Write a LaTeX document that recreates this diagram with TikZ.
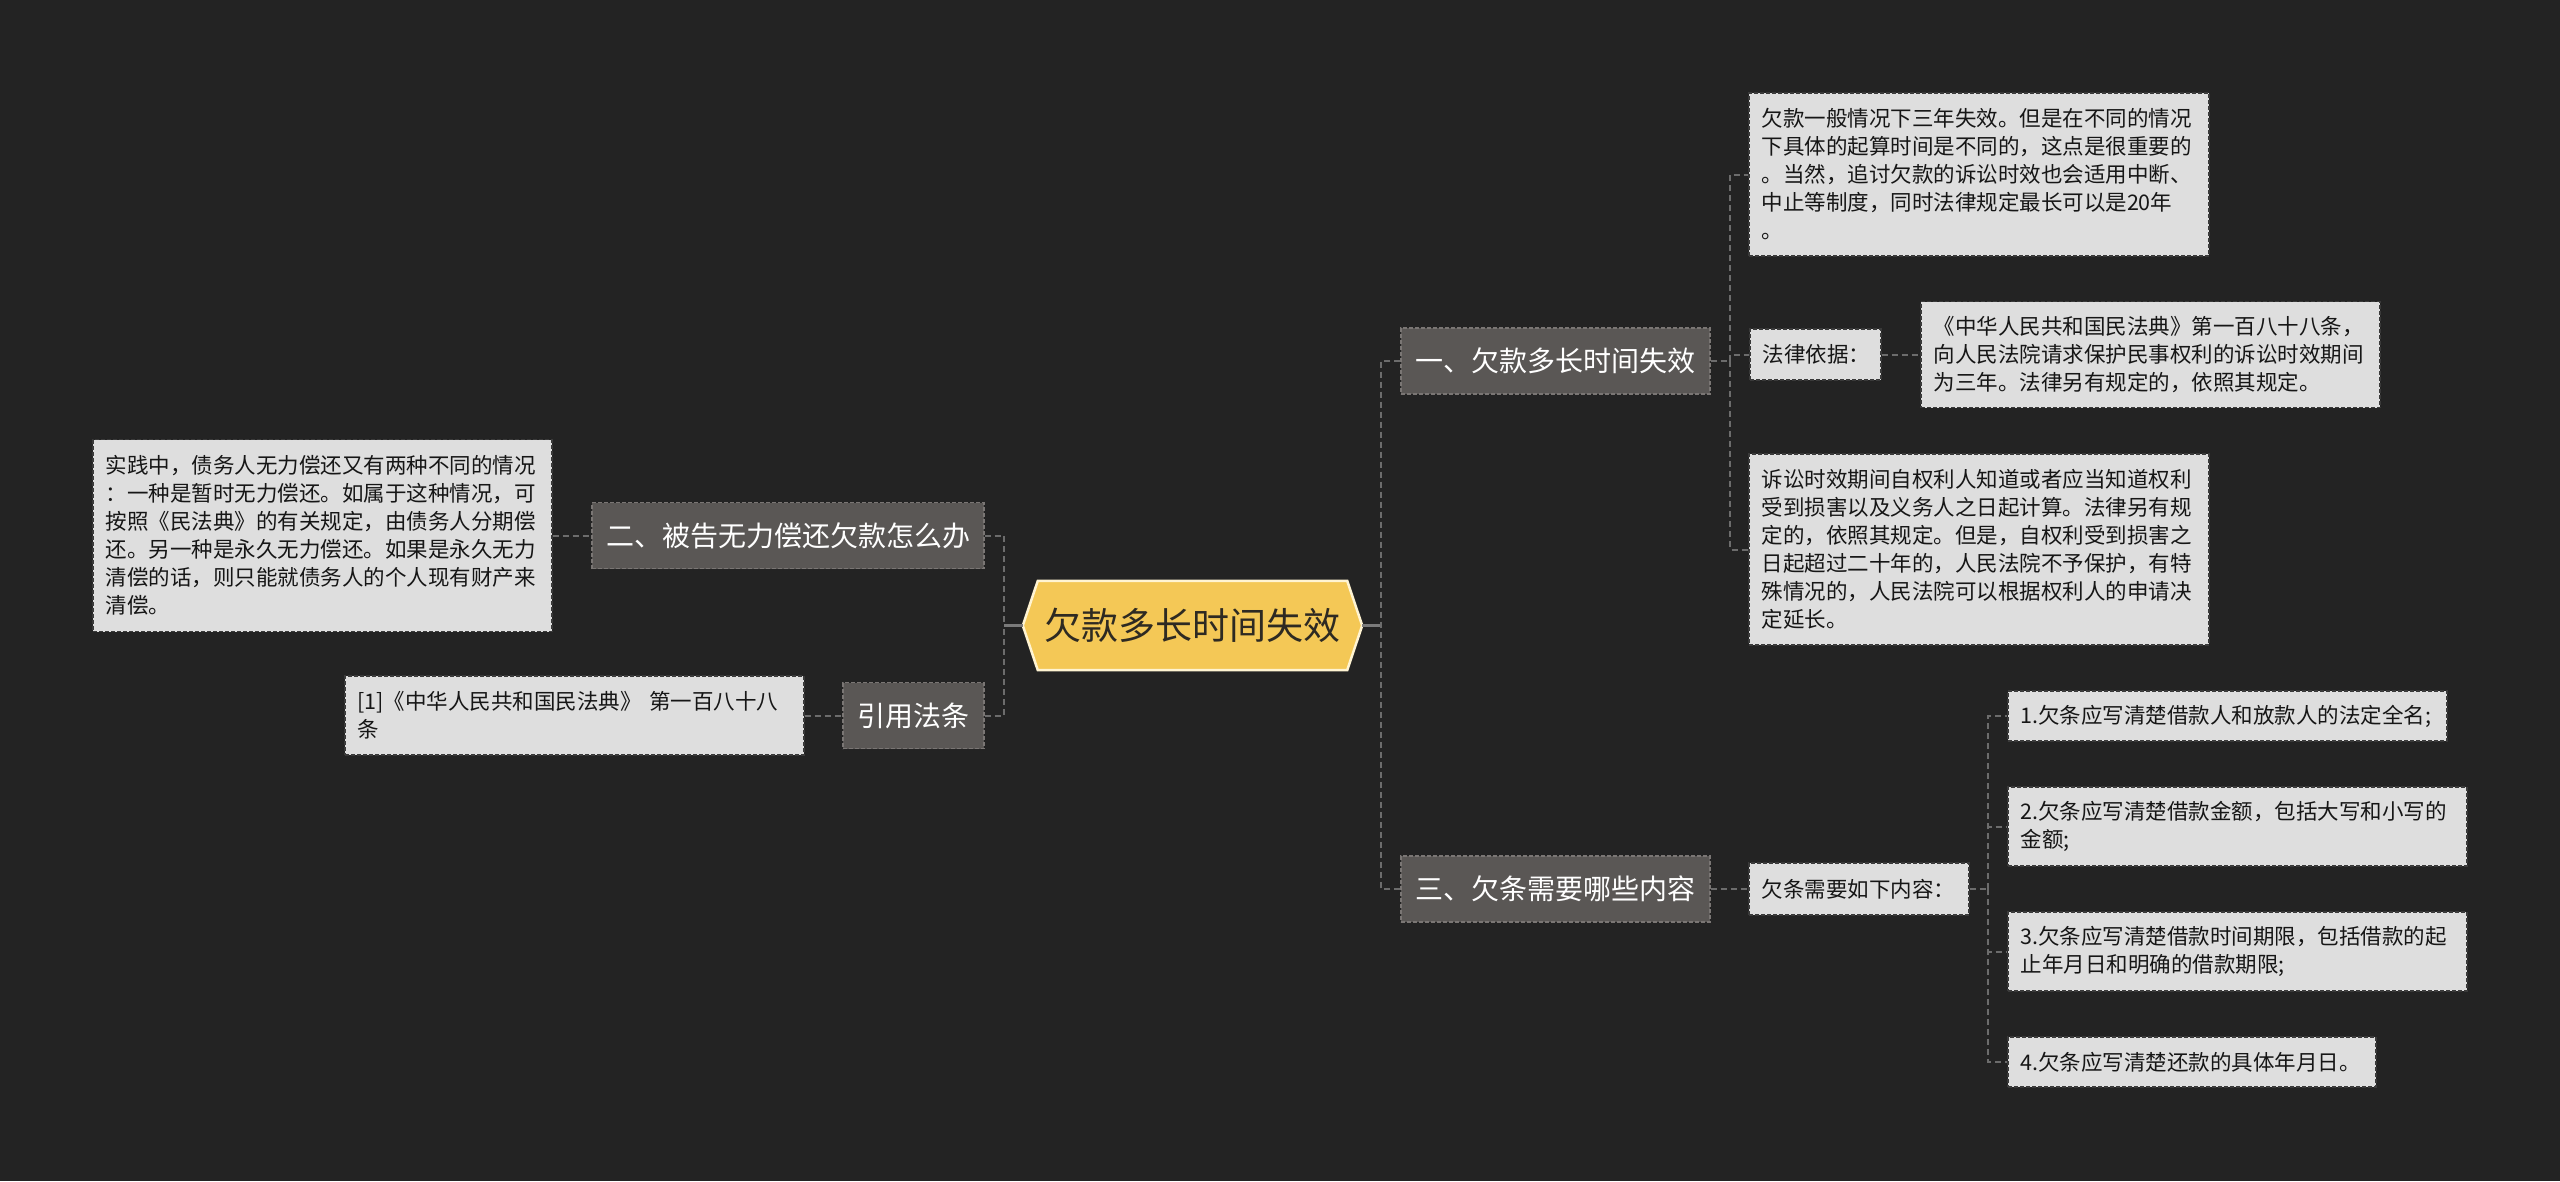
\documentclass[tikz,border=0pt]{standalone}
\usepackage{fontspec}
\setmainfont{Noto Sans CJK SC}
\usetikzlibrary{calc}
\definecolor{bgc}{HTML}{232323}
\definecolor{lvfill}{HTML}{5A5755}
\definecolor{lvdraw}{HTML}{7A7674}
\definecolor{leaffill}{HTML}{DEDEDE}
\definecolor{leafdraw}{HTML}{3A3A3A}
\definecolor{leaftext}{HTML}{161616}
\definecolor{conncol}{HTML}{6C6C6C}
\definecolor{stubcol}{HTML}{7A7A7A}
\definecolor{rootfill}{HTML}{F4C856}
\definecolor{rootdraw}{HTML}{FFF4D2}
\definecolor{roottext}{HTML}{2E2A22}
\pgfdeclarelayer{bglayer}
\pgfdeclarelayer{hexlayer}
\pgfsetlayers{bglayer,hexlayer,main}
\tikzset{
  rootnode/.style={inner sep=0pt, minimum width=339pt, minimum height=89pt, text=roottext, font=\fontsize{37}{44}\selectfont},
  lvone/.style={fill=lvfill, draw=lvdraw, dash pattern=on 4pt off 2pt, line width=1.2pt, text=white, font=\fontsize{28}{34}\selectfont, inner sep=0pt, minimum height=66pt},
  leaf/.style={fill=leaffill, draw=leafdraw, dash pattern=on 4pt off 2pt, line width=1.2pt, text=leaftext, font=\fontsize{21.5}{28}\selectfont, inner xsep=12.5pt, inner ysep=0pt, align=left},
  conn/.style={draw=conncol, line width=2pt, dash pattern=on 6pt off 4pt},
  stub/.style={draw=stubcol, line width=2.5pt},
}
\begin{document}
\begin{tikzpicture}[x=1pt,y=-1pt]
\useasboundingbox (0,0) rectangle (2560,1181);
\begin{pgfonlayer}{bglayer}
\fill[bgc] (0,0) rectangle (2560,1181);
\end{pgfonlayer}

% root
\node[rootnode] (root) at (1192.5,625.5) {欠款多长时间失效};
\begin{pgfonlayer}{hexlayer}
\filldraw[fill=rootfill, draw=rootdraw, line width=2.5pt, line join=miter]
  (root.west) -- ([xshift=15pt]root.north west) -- ([xshift=-15pt]root.north east)
  -- (root.east) -- ([xshift=-15pt]root.south east) -- ([xshift=15pt]root.south west) -- cycle;
\end{pgfonlayer}

% level one
\node[lvone, minimum width=309pt] (n1) at (1555.5,361) {一、欠款多长时间失效};
\node[lvone, minimum width=309pt] (n3) at (1555.5,889) {三、欠条需要哪些内容};
\node[lvone, minimum width=392pt] (n2) at (788,535.5) {二、被告无力偿还欠款怎么办};
\node[lvone, minimum width=141pt] (ref) at (913.5,715.5) {引用法条};

% leaves of n1
\node[leaf, text width=435pt, minimum height=163pt] (a1) at (1979,174.5) {欠款一般情况下三年失效。但是在不同的情况\\下具体的起算时间是不同的，这点是很重要的\\。当然，追讨欠款的诉讼时效也会适用中断、\\中止等制度，同时法律规定最长可以是20年\\。};
\node[leaf, text width=106pt, minimum height=51pt] (a2) at (1815.5,354.5) {法律依据：};
\node[leaf, text width=434pt, minimum height=106pt] (a2law) at (2150.5,354.5) {《中华人民共和国民法典》第一百八十八条，\\向人民法院请求保护民事权利的诉讼时效期间\\为三年。法律另有规定的，依照其规定。};
\node[leaf, text width=435pt, minimum height=191pt] (a3) at (1979,549.5) {诉讼时效期间自权利人知道或者应当知道权利\\受到损害以及义务人之日起计算。法律另有规\\定的，依照其规定。但是，自权利受到损害之\\日起超过二十年的，人民法院不予保护，有特\\殊情况的，人民法院可以根据权利人的申请决\\定延长。};

% leaves of n2 / ref
\node[leaf, text width=434pt, minimum height=192pt] (lt) at (322.5,535.5) {实践中，债务人无力偿还又有两种不同的情况\\：一种是暂时无力偿还。如属于这种情况，可\\按照《民法典》的有关规定，由债务人分期偿\\还。另一种是永久无力偿还。如果是永久无力\\清偿的话，则只能就债务人的个人现有财产来\\清偿。};
\node[leaf, text width=434pt, minimum height=79pt] (refbox) at (574.5,715.5) {[1]《中华人民共和国民法典》 第一百八十八\\条};

% leaves of n3
\node[leaf, text width=195pt, minimum height=52pt] (b) at (1859,889) {欠条需要如下内容：};
\node[leaf, text width=414pt, minimum height=50pt] (c1) at (2227.5,716) {1.欠条应写清楚借款人和放款人的法定全名;};
\node[leaf, text width=434pt, minimum height=79pt] (c2) at (2237.5,826.5) {2.欠条应写清楚借款金额，包括大写和小写的\\金额;};
\node[leaf, text width=434pt, minimum height=79pt] (c3) at (2237.5,951.5) {3.欠条应写清楚借款时间期限，包括借款的起\\止年月日和明确的借款期限;};
\node[leaf, text width=343pt, minimum height=50pt] (c4) at (2192,1062) {4.欠条应写清楚还款的具体年月日。};

% junctions
\coordinate (jl) at (1004,625.5);
\coordinate (jr) at (1381,625.5);
\coordinate (j1) at (1730,361);
\coordinate (j3) at (1988,889);

% connectors
\draw[stub] (root.west) -- (jl);
\draw[stub] (root.east) -- (jr);
\draw[conn] (n2.east) -| (jl);
\draw[conn] (ref.east) -| (jl);
\draw[conn] (n1.west) -| (jr);
\draw[conn] (n3.west) -| (jr);
\draw[conn] (lt.east) -- (n2.west);
\draw[conn] (refbox.east) -- (ref.west);
\draw[conn] (n1.east) -- (j1);
\draw[conn] (j1) |- (a1.west);
\draw[conn] (j1) |- (a2.west);
\draw[conn] (j1) |- (a3.west);
\draw[conn] (a2.east) -- (a2law.west);
\draw[conn] (n3.east) -- (b.west);
\draw[conn] (b.east) -- (j3);
\draw[conn] (j3) |- (c1.west);
\draw[conn] (j3) |- (c2.west);
\draw[conn] (j3) |- (c3.west);
\draw[conn] (j3) |- (c4.west);
\end{tikzpicture}
\end{document}
